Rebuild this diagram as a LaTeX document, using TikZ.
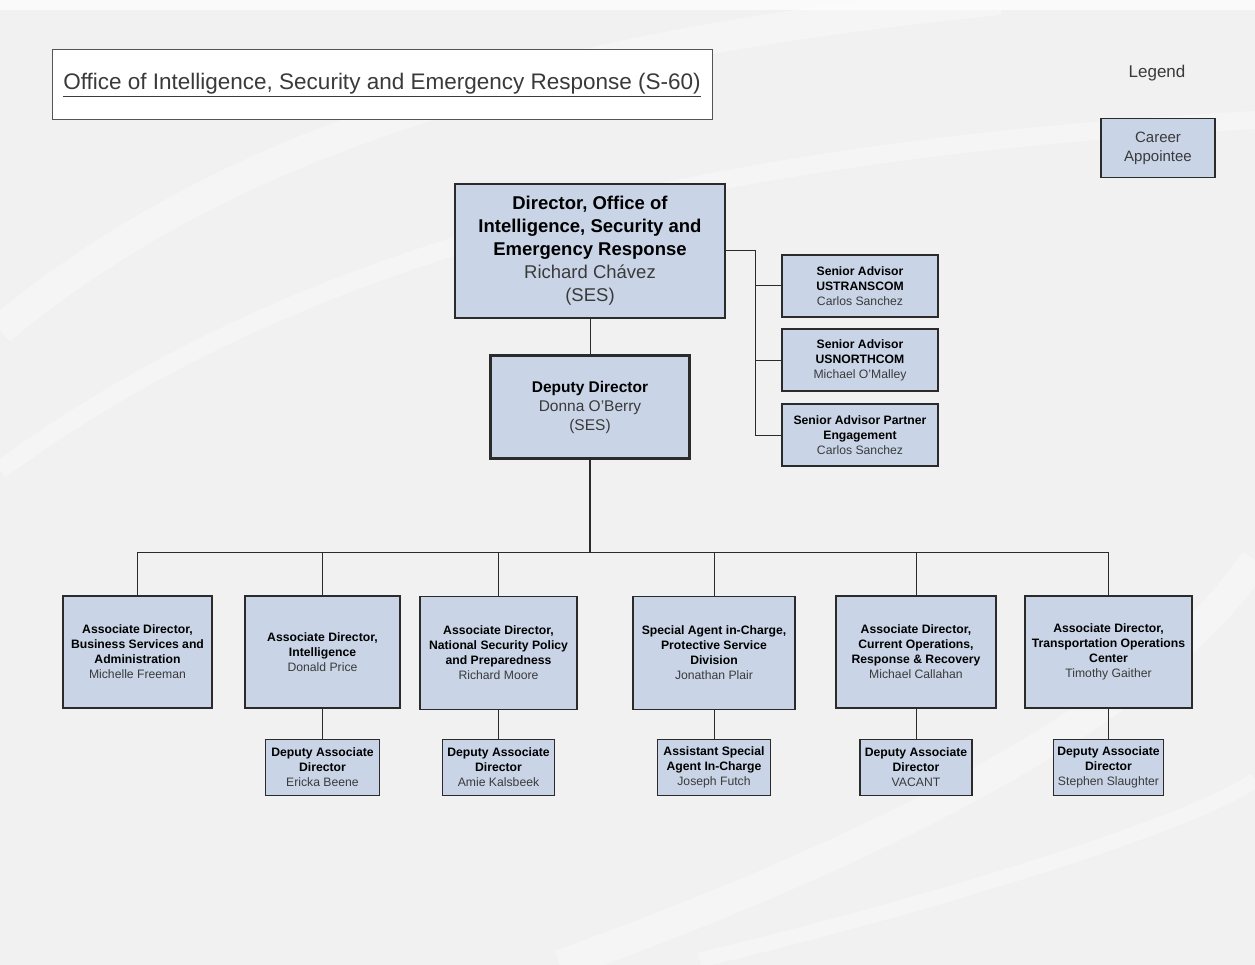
\documentclass[tikz,border=0pt]{standalone}
\usepackage{fontspec}
\setmainfont{Liberation Sans}
\usetikzlibrary{positioning}

\definecolor{boxblue}{HTML}{C9D5E7}
\definecolor{namegray}{HTML}{3A3A3A}
\definecolor{pagegray}{HTML}{F1F1F1}
\definecolor{edgegray}{HTML}{2B2B2B}

% name line under a bold title
\newcommand{\who}[1]{{\mdseries\color{namegray}#1}}

\begin{document}
\begin{tikzpicture}[x=1pt, y=-1pt,
    every node/.style={font=\bfseries\fontsize{12.2}{15}\selectfont},
    unit/.style={draw=edgegray, line width=1.1pt, fill=boxblue, align=center, inner sep=1pt},
    chief/.style={unit, line width=2.4pt},
    wire/.style={draw=edgegray, line width=1pt}]
    \useasboundingbox (0,0) rectangle (1255,965);

    % page with light swirls
    \fill[pagegray] (0,0) rectangle (1255,965);
    \fill[white, opacity=0.7] (0,0) rectangle (1255,10);
    \draw[white, line width=30pt, opacity=0.35] (0,330) .. controls (250,120) and (600,40) .. (1000,0);
    \draw[white, line width=18pt, opacity=0.35] (0,470) .. controls (300,250) and (700,150) .. (1255,120);
    \draw[white, line width=30pt, opacity=0.35] (560,965) .. controls (850,860) and (1150,720) .. (1255,560);
    \draw[white, line width=15pt, opacity=0.35] (700,960) .. controls (950,900) and (1200,820) .. (1255,780);

    % heading and legend
    \node[draw=edgegray!80, line width=1pt, fill=white, minimum width=660pt, minimum height=70pt,
          font=\fontsize{22.5}{26}\selectfont, text=namegray] (title) at (382,85)
          {\underline{Office of Intelligence, Security and Emergency Response (S-60)}};
    \node[font=\fontsize{17}{20}\selectfont, text=namegray] (legend) at (1157,73) {Legend};
    \node[unit, minimum width=114pt, minimum height=59pt, font=\fontsize{15}{19}\selectfont, text=namegray]
          (career) at (1158,148) {Career\\Appointee};

    % front office
    \node[chief, minimum width=270pt, minimum height=134pt, font=\bfseries\fontsize{18.5}{23}\selectfont]
          (dir) at (590,251)
          {Director, Office of\\Intelligence, Security and\\Emergency Response\\\who{Richard Chávez}\\\who{(SES)}};
    \node[chief, line width=3pt, minimum width=199pt, minimum height=102pt, font=\bfseries\fontsize{15.5}{19}\selectfont]
          (dep) at (590,407)
          {Deputy Director\\\who{Donna O'Berry}\\\who{(SES)}};

    % senior advisors
    \node[unit, minimum width=156pt, minimum height=62pt] (adv1) at (860,286)
          {Senior Advisor\\USTRANSCOM\\\who{Carlos Sanchez}};
    \node[unit, minimum width=156pt, minimum height=62pt] (adv2) at (860,360)
          {Senior Advisor\\USNORTHCOM\\\who{Michael O'Malley}};
    \node[unit, minimum width=156pt, minimum height=62pt] (adv3) at (860,435)
          {Senior Advisor Partner\\Engagement\\\who{Carlos Sanchez}};

    % associate directors
    \node[unit, minimum width=149pt, minimum height=112pt] (bsa) at (137.5,652)
          {Associate Director,\\Business Services and\\Administration\\\who{Michelle Freeman}};
    \node[unit, minimum width=155pt, minimum height=112pt] (intel) at (322.5,652)
          {Associate Director,\\Intelligence\\\who{Donald Price}};
    \node[unit, minimum width=157pt, minimum height=113pt] (nsp) at (498.5,653)
          {Associate Director,\\National Security Policy\\and Preparedness\\\who{Richard Moore}};
    \node[unit, minimum width=162pt, minimum height=113pt] (psd) at (714,653)
          {Special Agent in-Charge,\\Protective Service\\Division\\\who{Jonathan Plair}};
    \node[unit, minimum width=160pt, minimum height=112pt] (cor) at (916,652)
          {Associate Director,\\Current Operations,\\Response \& Recovery\\\who{Michael Callahan}};
    \node[unit, minimum width=167pt, minimum height=112pt] (toc) at (1108.5,652)
          {Associate Director,\\Transportation Operations\\Center\\\who{Timothy Gaither}};

    % deputies under them
    \node[unit, minimum width=114pt, minimum height=56pt, below=30pt of intel] (intel2)
          {Deputy Associate\\Director\\\who{Ericka Beene}};
    \node[unit, minimum width=112pt, minimum height=56pt, below=29pt of nsp] (nsp2)
          {Deputy Associate\\Director\\\who{Amie Kalsbeek}};
    \node[unit, minimum width=113pt, minimum height=56pt, below=29pt of psd] (psd2)
          {Assistant Special\\Agent In-Charge\\\who{Joseph Futch}};
    \node[unit, minimum width=112pt, minimum height=56pt, below=30pt of cor] (cor2)
          {Deputy Associate\\Director\\\who{VACANT}};
    \node[unit, minimum width=110pt, minimum height=56pt, below=30pt of toc] (toc2)
          {Deputy Associate\\Director\\\who{Stephen Slaughter}};

    % connectors
    \coordinate (spine) at (755,0);
    \coordinate (bus) at (0,552);
    \draw[wire] (dir.south) -- (dep.north);
    \draw[wire] (dir.east) -| (spine |- adv3.west) -- (adv3.west);
    \draw[wire] (adv1.west) -- (adv1.west -| spine);
    \draw[wire] (adv2.west) -- (adv2.west -| spine);

    \draw[wire, line width=1.8pt] (dep.south) -- (dep.south |- bus);
    \draw[wire] (bsa.north) |- (toc.north |- bus) -- (toc.north);
    \foreach \n in {intel,nsp,psd,cor}
        \draw[wire] (\n.north) -- (\n.north |- bus);
    \foreach \n in {intel,nsp,psd,cor,toc}
        \draw[wire] (\n.south) -- (\n2.north);
\end{tikzpicture}
\end{document}
